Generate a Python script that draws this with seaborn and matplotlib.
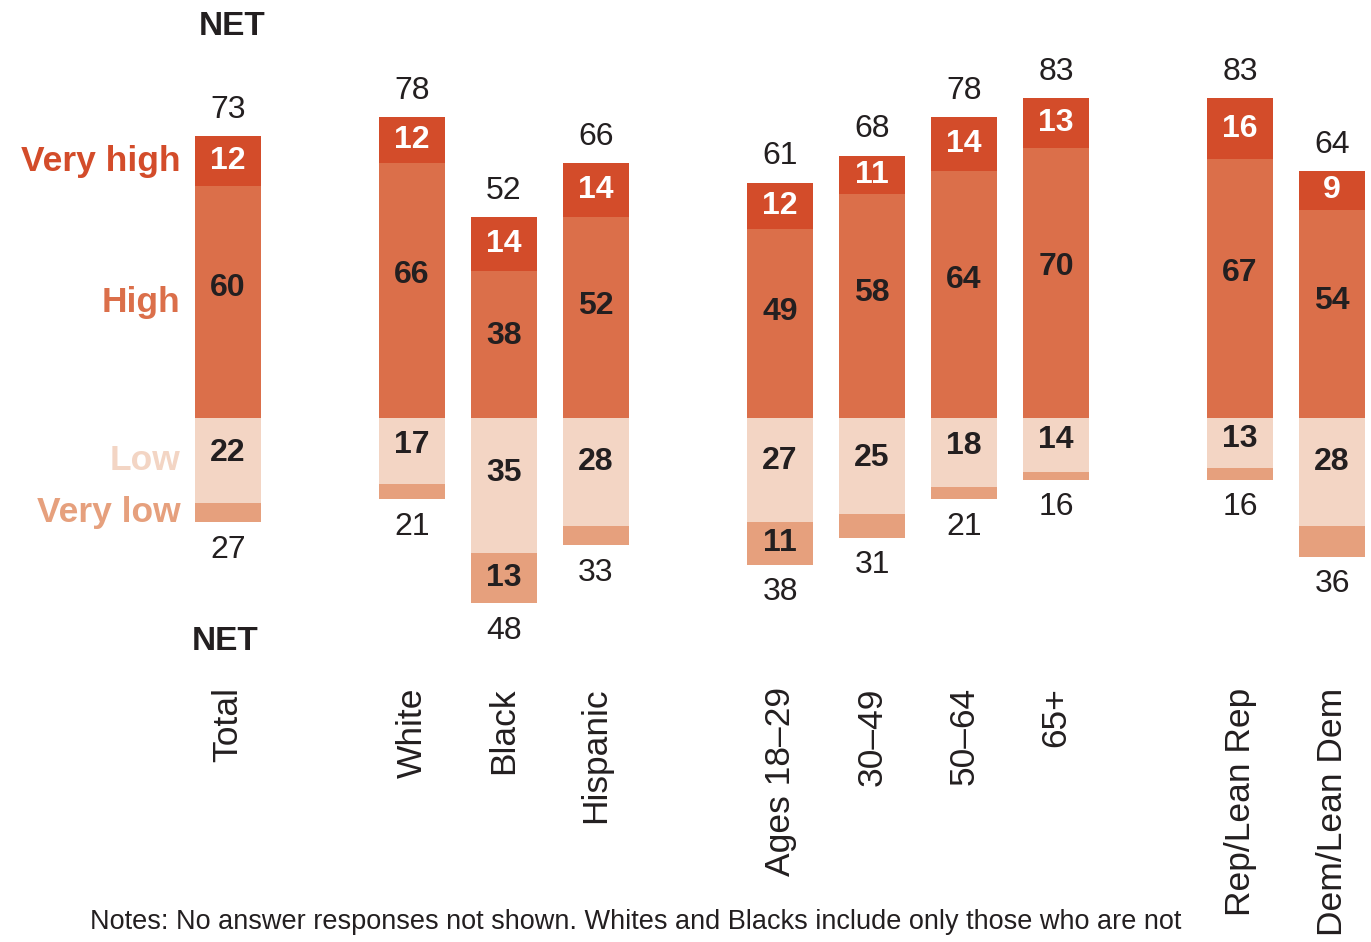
import numpy as np
import pandas as pd
import matplotlib.pyplot as plt
import seaborn as sns

sns.set_theme(style="white")
plt.rcParams["font.family"] = ["Liberation Sans", "DejaVu Sans"]

VERY_HIGH_C = "#D34C2A"
HIGH_C = "#DB6F4A"
LOW_C = "#F3D5C4"
VERY_LOW_C = "#E6A07D"
TEXT_C = "#231F20"

groups = ["Total", "White", "Black", "Hispanic", "Ages 18\u201329", "30\u201349",
          "50\u201364", "65+", "Rep/Lean Rep", "Dem/Lean Dem"]
slots = [0, 2, 3, 4, 6, 7, 8, 9, 11, 12]
very_high = [12, 12, 14, 14, 12, 11, 14, 13, 16, 9]
high = [60, 66, 38, 52, 49, 58, 64, 70, 67, 54]
net_high = [73, 78, 52, 66, 61, 68, 78, 83, 83, 64]
low = [22, 17, 35, 28, 27, 25, 18, 14, 13, 28]
very_low = [5, 4, 13, 5, 11, 6, 3, 2, 3, 8]
net_low = [27, 21, 48, 33, 38, 31, 21, 16, 16, 36]

df = pd.DataFrame({"slot": slots, "very_high": very_high, "high": high,
                   "net_high": net_high, "low": low, "very_low": very_low,
                   "net_low": net_low})
df["neg_low"] = -df["low"]
df["neg_net_low"] = -df["net_low"]

fig = plt.figure(figsize=(13.71, 9.42), dpi=100)
ax = fig.add_axes([0.1361, 0.3514, 0.8637, 0.5531])

# overlay bars: full stack first, inner segment drawn on top
layers = [("net_high", VERY_HIGH_C), ("high", HIGH_C),
          ("neg_net_low", VERY_LOW_C), ("neg_low", LOW_C)]
for col, c in layers:
    sns.barplot(data=df, x="slot", y=col, native_scale=True, width=0.71,
                color=c, saturation=1, linewidth=0, ax=ax)

num_kw = dict(ha="center", fontsize=23)
for _, r in df.iterrows():
    x = r["slot"]
    # NET labels
    ax.annotate(f"{r['net_high']:.0f}", (x, r["net_high"]), xytext=(0, 8),
                textcoords="offset points", va="bottom", color=TEXT_C, **num_kw)
    ax.annotate(f"{r['net_low']:.0f}", (x, -r["net_low"]), xytext=(0, -9),
                textcoords="offset points", va="top", color=TEXT_C, **num_kw)
    # segment labels
    ax.text(x, (r["net_high"] + r["high"]) / 2, f"{r['very_high']:.0f}",
            va="center", color="white", fontweight="bold", **num_kw)
    ax.text(x, r["high"] / 2 * 1.12, f"{r['high']:.0f}",
            va="center", color=TEXT_C, fontweight="bold", **num_kw)
    ax.text(x, -r["low"] / 2 * 0.82, f"{r['low']:.0f}",
            va="center", color=TEXT_C, fontweight="bold", **num_kw)
    if r["very_low"] >= 10:
        ax.text(x, -(r["low"] + r["net_low"]) / 2, f"{r['very_low']:.0f}",
                va="center", color=TEXT_C, fontweight="bold", **num_kw)

# row labels next to the Total bar
t = df.iloc[0]
leg_kw = dict(ha="right", va="center", fontsize=25.5, fontweight="bold")
ax.text(-0.52, (t["net_high"] + t["high"]) / 2, "Very high", color=VERY_HIGH_C, **leg_kw)
ax.text(-0.52, t["high"] / 2, "High", color=HIGH_C, **leg_kw)
ax.text(-0.52, -t["low"] / 2, "Low", color=LOW_C, **leg_kw)
ax.text(-0.52, -(t["low"] + t["net_low"]) / 2, "Very low", color=VERY_LOW_C, **leg_kw)

ax.text(0.05, 101.5, "NET", ha="center", va="center", fontsize=24,
        fontweight="bold", color=TEXT_C)
ax.text(-0.03, -58, "NET", ha="center", va="center", fontsize=24,
        fontweight="bold", color=TEXT_C)

ax.set_xlim(-0.45, 12.42)
ax.set_ylim(-50, 85)
ax.set_xticks(slots)
ax.set_xticklabels(groups, rotation=90, va="top", ha="center", fontsize=25.5,
                   color=TEXT_C)
ax.tick_params(axis="x", length=0, pad=55)
ax.set_yticks([])
ax.set_xlabel("")
ax.set_ylabel("")
sns.despine(ax=ax, left=True, bottom=True)

fig.text(90 / 1371, 1 - 922 / 942,
         "Notes: No answer responses not shown. Whites and Blacks include only those who are not",
         ha="left", va="center", fontsize=19.5, color=TEXT_C)

fig.savefig("out.png", dpi=100, facecolor="white")
